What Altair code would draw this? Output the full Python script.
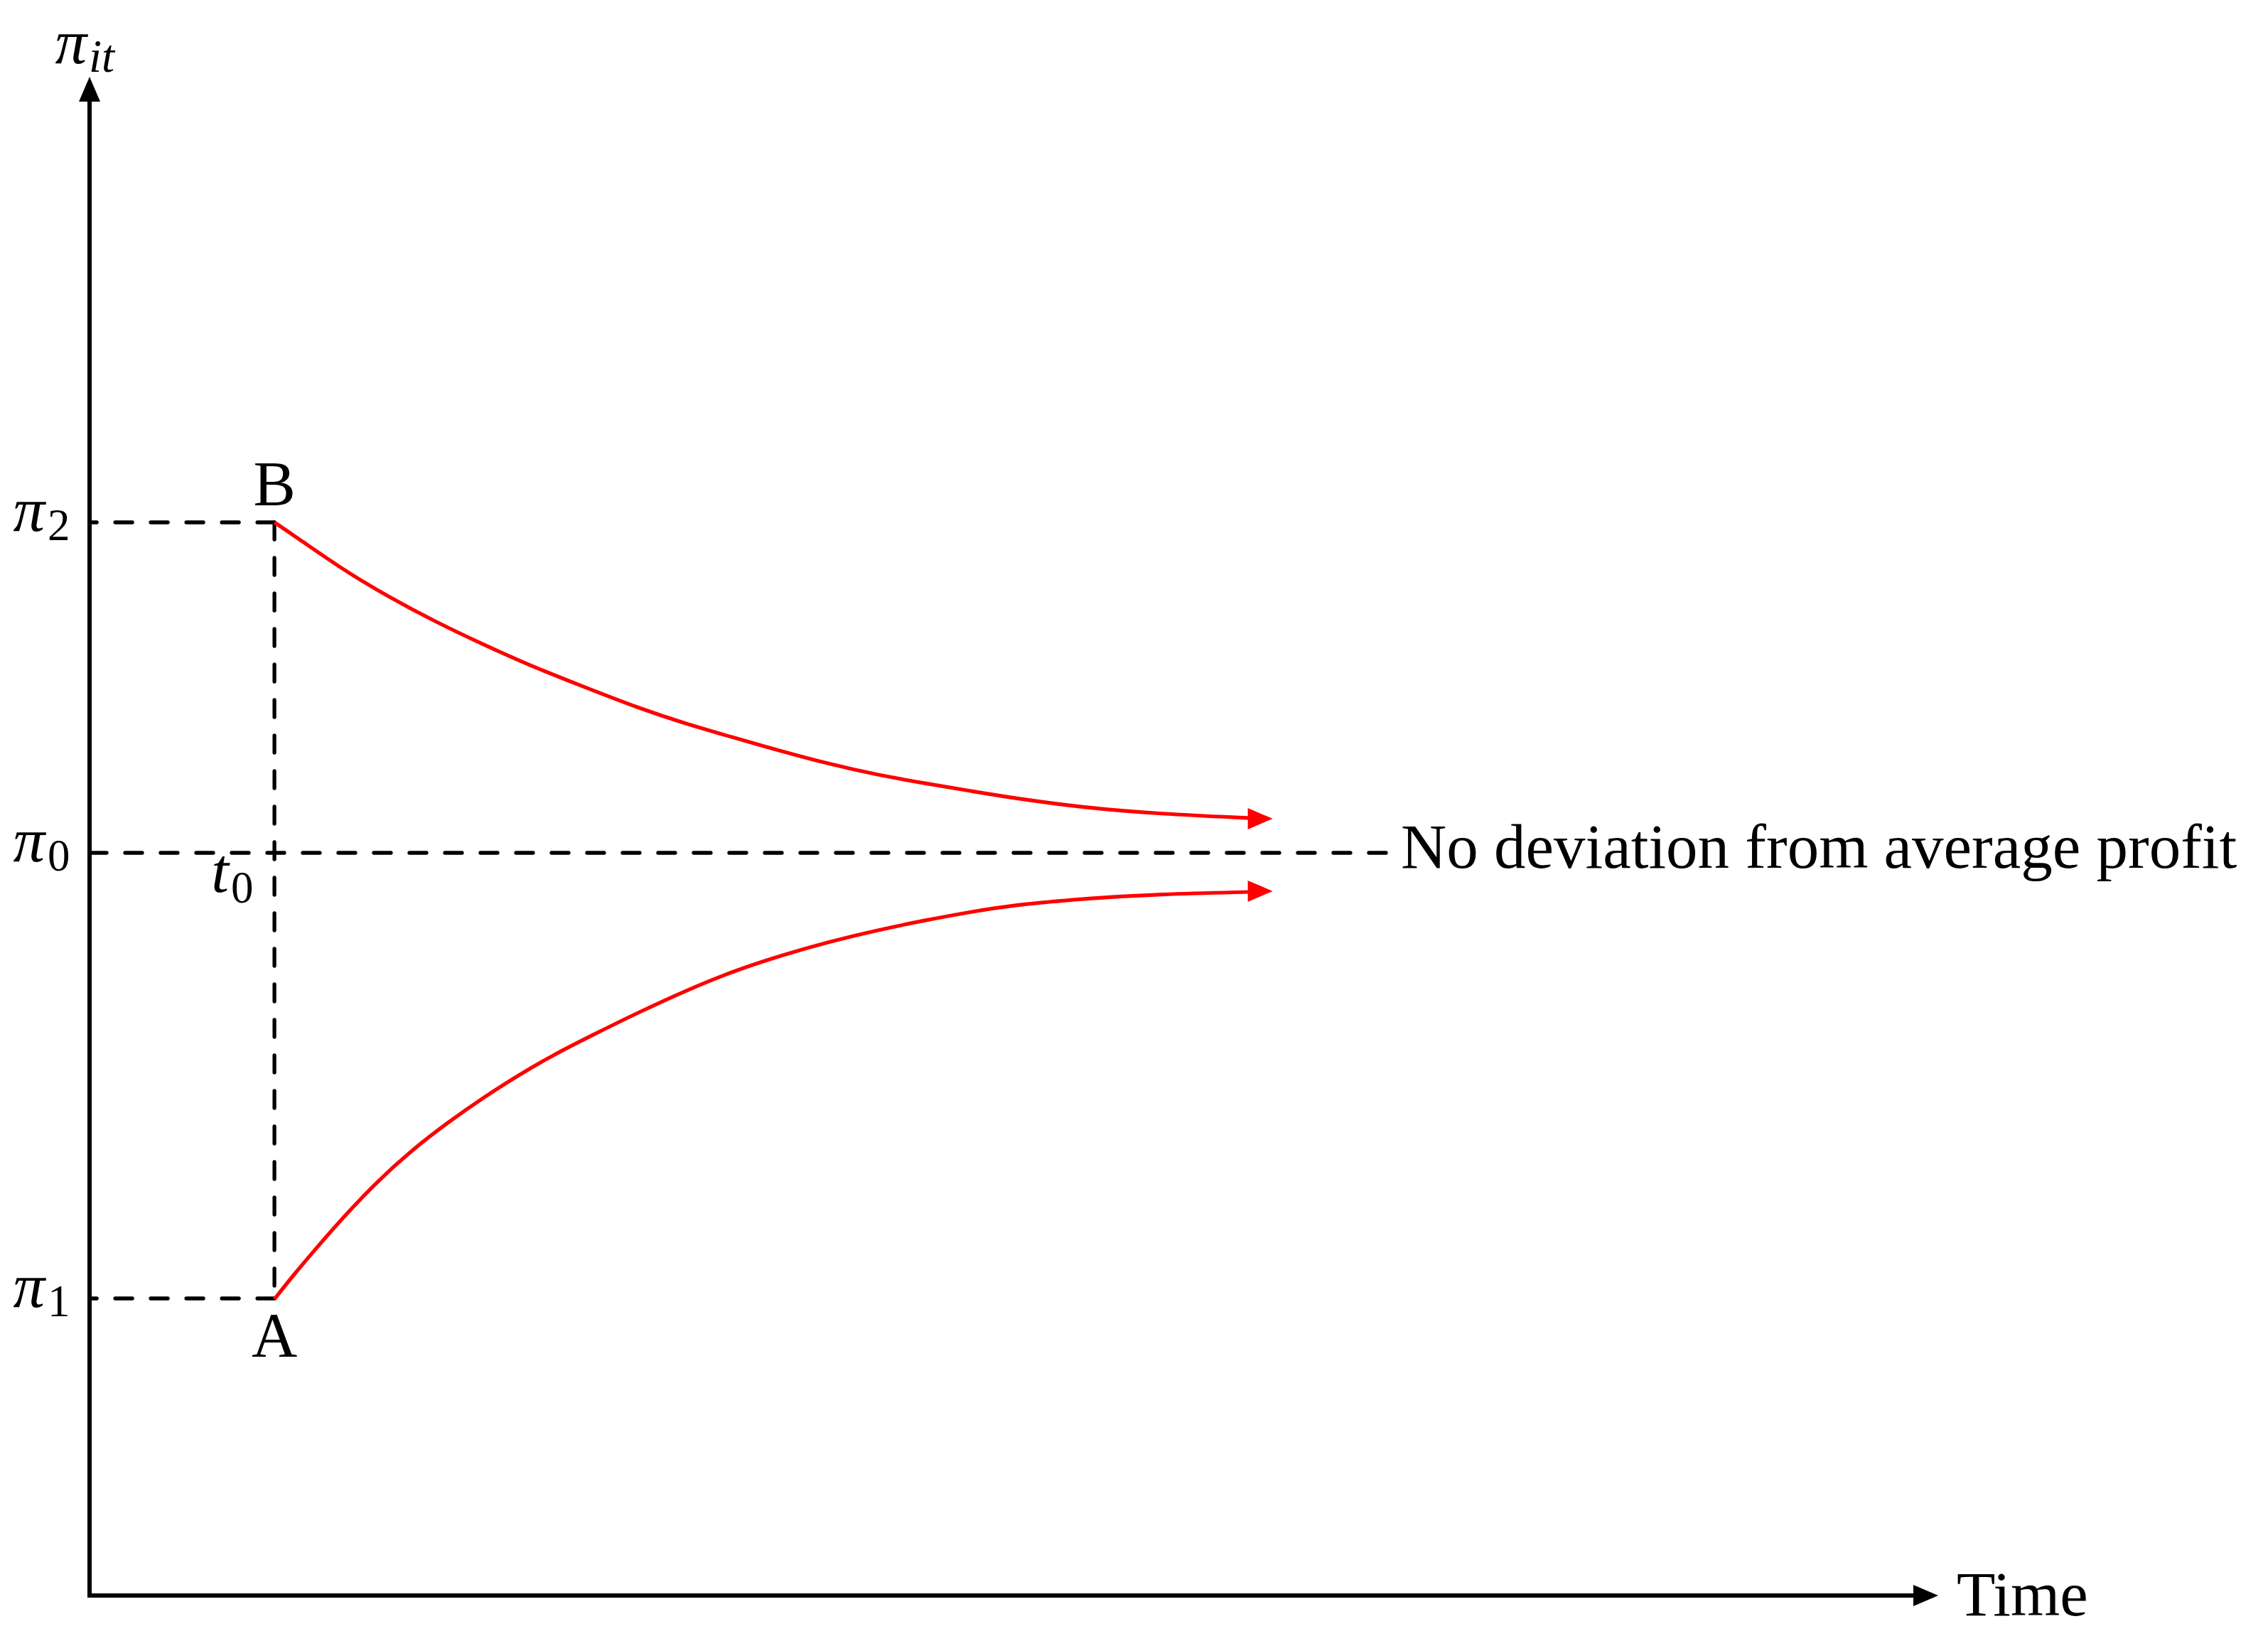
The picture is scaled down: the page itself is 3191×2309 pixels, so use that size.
import altair as alt
import pandas as pd

# ---------------- values ----------------
T_MAX = 10.0          # time-axis extent (arrow tip)
Y_MAX = 10.225        # profit-axis extent (arrow tip)
T0 = 1.0              # t0
level_subs = ["1", "0", "2"]
level_values = [2.0, 5.0, 7.225]   # pi_1, pi_0, pi_2
PI0_LINE_END = 7.02

upper_t = [1.000, 1.103, 1.361, 1.619, 1.872, 2.130, 2.388, 2.641, 2.976, 3.233,
           3.487, 3.745, 4.002, 4.256, 4.514, 4.771, 4.975, 5.398, 5.782, 6.282]
upper_y = [7.225, 7.139, 6.914, 6.722, 6.555, 6.402, 6.258, 6.134, 5.971, 5.866,
           5.775, 5.684, 5.598, 5.526, 5.469, 5.416, 5.373, 5.301, 5.263, 5.234]
lower_t = [1.000, 1.103, 1.234, 1.361, 1.553, 1.745, 1.938, 2.130, 2.322, 2.514,
           2.707, 2.976, 3.233, 3.487, 3.745, 4.002, 4.256, 4.514, 4.771, 4.975,
           5.398, 5.782, 6.282]
lower_y = [1.995, 2.158, 2.349, 2.531, 2.785, 3.000, 3.185, 3.352, 3.505, 3.643,
           3.765, 3.930, 4.077, 4.206, 4.311, 4.402, 4.478, 4.545, 4.603, 4.646,
           4.694, 4.722, 4.737]
red_tip_t = 6.40
red_tip_y = [5.230, 4.742]

label_font = "Liberation Serif"
FS = 89
FS_SUB = 63

# ---------------- layout ----------------
W, H = 2601, 2137
ARROW_LEN = 35.0
t_half = (ARROW_LEN / 2) / (W / T_MAX)
y_half = (ARROW_LEN / 2) / (H / Y_MAX)

xs = alt.Scale(domain=[0, T_MAX], nice=False, zero=False)
ys = alt.Scale(domain=[0, Y_MAX], nice=False, zero=False)
X = lambda f="t": alt.X(f"{f}:Q", scale=xs, axis=None)
Y = lambda f="y": alt.Y(f"{f}:Q", scale=ys, axis=None)

# axes
axes_df = pd.DataFrame({"t": [0, 0], "y": [0, 0],
                        "t2": [0, T_MAX - t_half], "y2": [Y_MAX - y_half, 0]})
axes = alt.Chart(axes_df).mark_rule(color="black", strokeWidth=6, strokeCap="square").encode(
    x=X(), y=Y(), x2="t2:Q", y2="y2:Q")

up_arrow = alt.Chart(pd.DataFrame({"t": [0.0], "y": [Y_MAX - y_half]})).mark_point(
    shape="M0,-1L0.857,1L-0.857,1Z", filled=True, size=ARROW_LEN ** 2,
    color="black", opacity=1, strokeWidth=0).encode(x=X(), y=Y())
right_arrow = alt.Chart(pd.DataFrame({"t": [T_MAX - t_half], "y": [0.0]})).mark_point(
    shape="M1,0L-1,0.857L-1,-0.857Z", filled=True, size=ARROW_LEN ** 2,
    color="black", opacity=1, strokeWidth=0).encode(x=X(), y=Y())

# dashed guide lines
pi1, pi0, pi2 = level_values
dash_rows = []
for name, pts in [("h2", [(T0, pi2), (0.0, pi2)]),
                  ("h1", [(T0, pi1), (0.0, pi1)]),
                  ("h0", [(0.0, pi0), (PI0_LINE_END, pi0)]),
                  ("v", [(T0, pi2), (T0, pi1)])]:
    for i, (t, y) in enumerate(pts):
        dash_rows.append({"line": name, "t": t, "y": y, "seq": i})
dashes = alt.Chart(pd.DataFrame(dash_rows)).mark_line(
    color="black", strokeWidth=5.3, strokeDash=[24, 26], strokeCap="round").encode(
    x=X(), y=Y(), detail="line:N", order="seq:Q")

# red curves
curve_rows = []
for name, ts, yv in [("up", upper_t, upper_y), ("low", lower_t, lower_y)]:
    for i, (t, y) in enumerate(zip(ts, yv)):
        curve_rows.append({"curve": name, "t": t, "y": y, "seq": i})
curves = alt.Chart(pd.DataFrame(curve_rows)).mark_line(
    color="#ff0000", strokeWidth=5.2, interpolate="basis").encode(
    x=X(), y=Y(), detail="curve:N", order="seq:Q")
red_heads = alt.Chart(pd.DataFrame({"t": [red_tip_t - t_half] * 2, "y": red_tip_y})).mark_point(
    shape="M1,0L-1,0.857L-1,-0.857Z", filled=True, size=ARROW_LEN ** 2,
    color="#ff0000", opacity=1, strokeWidth=0).encode(x=X(), y=Y())

# texts
def txt(df, **kw):
    base = dict(font=label_font, color="black", baseline="alphabetic")
    base.update(kw)
    return alt.Chart(df).mark_text(**base).encode(x=X(), y=Y(), text="label:N")

lev_df = pd.DataFrame({"t": [0.0] * 3, "y": level_values, "label": ["π"] * 3})
sub_df = pd.DataFrame({"t": [0.0] * 3, "y": level_values, "label": level_subs})
pi_glyphs = txt(lev_df, fontSize=FS, fontStyle="italic", align="right", dx=-63, dy=12)
pi_subs = txt(sub_df, fontSize=FS_SUB, align="left", dx=-59, dy=25)

ytitle = txt(pd.DataFrame({"t": [0.0], "y": [Y_MAX], "label": ["π"]}),
             fontSize=FS, fontStyle="italic", align="right", dx=-4, dy=-19)
ytitle_sub = txt(pd.DataFrame({"t": [0.0], "y": [Y_MAX], "label": ["it"]}),
                 fontSize=65, fontStyle="italic", align="left", dx=-1, dy=-7)

t0_lbl = txt(pd.DataFrame({"t": [T0], "y": [pi0], "label": ["t"]}),
             fontSize=FS, fontStyle="italic", align="right", dx=-64, dy=55)
t0_sub = txt(pd.DataFrame({"t": [T0], "y": [pi0], "label": ["0"]}),
             fontSize=FS_SUB, align="left", dx=-61, dy=70)

b_lbl = txt(pd.DataFrame({"t": [T0], "y": [pi2], "label": ["B"]}),
            fontSize=FS, align="center", dy=-25)
a_lbl = txt(pd.DataFrame({"t": [T0], "y": [pi1], "label": ["A"]}),
            fontSize=FS, align="center", dy=81)

time_lbl = txt(pd.DataFrame({"t": [T_MAX], "y": [0.0], "label": ["Time"]}),
               fontSize=FS, align="left", dx=26, dy=28)
avg_lbl = txt(pd.DataFrame({"t": [PI0_LINE_END], "y": [pi0],
                            "label": ["No deviation from average profit"]}),
              fontSize=FS, align="left", dx=19, dy=21)

chart = alt.layer(
    dashes, curves, red_heads, axes, up_arrow, right_arrow,
    pi_glyphs, pi_subs, ytitle, ytitle_sub, t0_lbl, t0_sub, b_lbl, a_lbl,
    time_lbl, avg_lbl,
).properties(
    width=W, height=H,
    padding={"left": 118, "top": 100, "right": 440, "bottom": 50},
    autosize=alt.AutoSizeParams(type="none"),
    background="white",
).configure_view(stroke=None)

chart.save("out.html", embed_options={"renderer": "svg", "actions": False})
